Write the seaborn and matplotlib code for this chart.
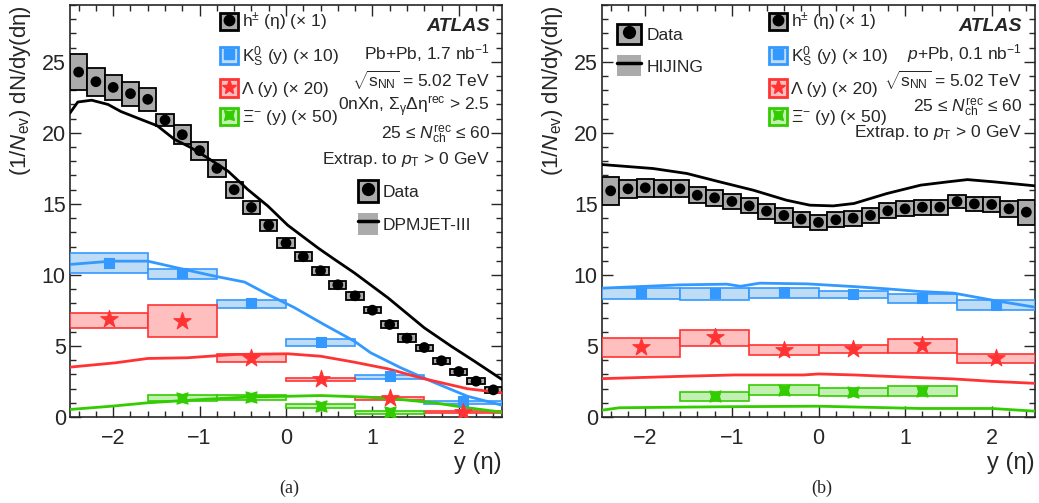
import numpy as np
import seaborn as sns
import matplotlib.pyplot as plt
from matplotlib.patches import Patch
from matplotlib.lines import Line2D
from matplotlib.legend_handler import HandlerTuple
from matplotlib.ticker import MultipleLocator

# ---- data ----
h_y = [-2.4, -2.2, -2.0, -1.8, -1.6, -1.4, -1.2, -1.0, -0.8, -0.6, -0.4, -0.2, 0.0,
       0.2, 0.4, 0.6, 0.8, 1.0, 1.2, 1.4, 1.6, 1.8, 2.0, 2.2, 2.4]
sp_edges = [-2.5, -1.6, -0.8, 0.0, 0.8, 1.6, 2.5]

# (a) Pb+Pb
h_a = [24.28, 23.6, 23.2, 22.76, 22.36, 20.9, 19.87, 18.75, 17.5, 16.0, 14.75, 13.5, 12.24,
       11.28, 10.3, 9.31, 8.53, 7.52, 6.51, 5.55, 4.89, 3.96, 3.2, 2.52, 1.91]
h_a_err = [1.26, 1.0, 0.9, 0.85, 0.82, 0.45, 0.67, 0.63, 0.61, 0.56, 0.47, 0.39, 0.35,
           0.32, 0.29, 0.27, 0.26, 0.23, 0.25, 0.26, 0.21, 0.21, 0.21, 0.2, 0.21]
k0_a = [10.83, 10.13, 7.99, 5.29, 2.87, 1.11]
k0_a_lo = [10.15, 9.73, 7.69, 5.03, 2.64, 0.9]
k0_a_hi = [11.56, 10.39, 8.23, 5.5, 2.97, 1.16]
lam_a = [6.87, 6.73, 4.17, 2.64, 1.35, 0.34]
lam_a_lo = [6.28, 5.62, 3.89, 2.5, 1.18, 0.3]
lam_a_hi = [7.34, 7.85, 4.4, 2.76, 1.42, 0.44]
xi_a = [1.35, 1.4, 0.76, 0.32]
xi_a_lo = [1.14, 1.21, 0.65, 0.23]
xi_a_hi = [1.54, 1.58, 0.93, 0.41]

dpm_x = [-2.5, -2.41, -2.25, -2.06, -1.91, -1.68, -1.49, -1.29, -1.1, -0.91, -0.67, -0.44,
         -0.21, 0.02, 0.37, 0.56, 0.79, 1.18, 1.6, 1.91, 2.18, 2.5]
dpm_h = [21.4, 22.17, 22.3, 22.0, 21.5, 20.95, 20.5, 19.54, 18.96, 18.25, 17.3, 16.0,
         14.85, 13.5, 11.9, 11.1, 10.15, 8.39, 6.28, 4.99, 3.93, 2.64]
dpm_k0_x = [-2.5, -2.02, -1.6, -1.21, -0.83, -0.48, -0.21, 0.1, 0.44, 0.79, 0.98, 1.33, 1.68, 2.1, 2.5]
dpm_k0 = [10.74, 10.97, 10.97, 10.43, 9.92, 9.5, 8.63, 7.69, 6.51, 5.34, 4.52, 3.46, 2.52, 1.46, 0.83]
dpm_lam_x = [-2.5, -1.98, -1.6, -1.14, -0.6, 0.02, 0.4, 0.79, 1.18, 1.6, 2.1, 2.5]
dpm_lam = [3.51, 3.81, 4.12, 4.17, 4.4, 4.45, 4.28, 3.86, 3.39, 2.69, 1.99, 1.7]
dpm_xi_x = [-2.5, -2.02, -1.6, -0.98, -0.4, 0.02, 0.4, 0.94, 1.33, 1.71, 2.1, 2.5]
dpm_xi = [0.53, 0.76, 1.0, 1.23, 1.42, 1.46, 1.51, 1.4, 1.23, 1.0, 0.65, 0.34]

# (b) p+Pb
h_b = [15.92, 16.06, 16.13, 16.06, 16.06, 15.61, 15.43, 15.17, 14.86, 14.49, 14.19, 13.93, 13.7,
       13.88, 14.0, 14.19, 14.51, 14.65, 14.77, 14.77, 15.17, 15.0, 14.96, 14.65, 14.42]
h_b_err = [0.98, 0.61, 0.63, 0.6, 0.6, 0.56, 0.55, 0.55, 0.53, 0.53, 0.53, 0.53, 0.53,
           0.53, 0.53, 0.53, 0.52, 0.52, 0.52, 0.52, 0.49, 0.52, 0.55, 0.58, 0.88]
k0_b = [8.72, 8.72, 8.83, 8.65, 8.41, 7.89]
k0_b_lo = [8.3, 8.25, 8.41, 8.41, 8.01, 7.5]
k0_b_hi = [9.07, 9.07, 9.11, 8.9, 8.65, 8.25]
lam_b = [4.93, 5.6, 4.74, 4.79, 5.09, 4.15]
lam_b_lo = [4.25, 4.97, 4.36, 4.5, 4.53, 3.82]
lam_b_hi = [5.56, 6.14, 5.09, 5.04, 5.49, 4.43]
xi_b = [1.46, 1.88, 1.77, 1.81]
xi_b_lo = [1.14, 1.58, 1.46, 1.49]
xi_b_hi = [1.77, 2.26, 2.02, 2.19]

hij_x = [-2.5, -1.91, -1.52, -1.14, -0.75, -0.37, -0.1, 0.17, 0.41, 0.79, 1.18, 1.49, 1.72, 2.03, 2.5]
hij_h = [17.77, 17.49, 17.14, 16.55, 15.96, 15.26, 14.91, 14.86, 15.03, 15.73, 16.32, 16.55, 16.71, 16.55, 16.27]
hij_k0_x = [-2.5, -1.6, -1.06, -0.9, -0.68, -0.13, 0.41, 0.79, 1.18, 1.56, 2.03, 2.5]
hij_k0 = [9.07, 9.3, 9.35, 9.2, 9.42, 9.37, 9.18, 9.02, 8.83, 8.72, 8.2, 7.73]
hij_lam_x = [-2.5, -1.6, -0.97, -0.17, 0.0, 0.41, 0.8, 1.56, 2.0, 2.5]
hij_lam = [2.7, 2.86, 2.96, 2.96, 3.03, 2.96, 2.86, 2.68, 2.51, 2.37]
hij_xi_x = [-2.5, -2.3, -1.14, 0.0, 1.18, 2.0, 2.5]
hij_xi = [0.48, 0.65, 0.72, 0.76, 0.6, 0.6, 0.41]

# ---- style ----
sns.set_style("ticks")
plt.rcParams['font.family'] = ['Liberation Sans', 'DejaVu Sans']
plt.rcParams['mathtext.fontset'] = 'custom'
plt.rcParams['mathtext.rm'] = 'Liberation Sans'
plt.rcParams['mathtext.it'] = 'Liberation Sans:italic'
plt.rcParams['mathtext.bf'] = 'Liberation Sans:bold'

GRAY_FILL = '#ababab'
BLUE, BLUE_FILL = '#3399ff', '#bfdcf7'
RED, RED_FILL = '#ff3333', '#ffbfbf'
GREEN, GREEN_FILL = '#33cc00', '#c2efb2'
XI_MARK = (4, 1, 45)

fig = plt.figure(figsize=(10.39, 5.03), dpi=100)
ax_a = fig.add_axes([70 / 1039, 86 / 503, 432 / 1039, 412 / 503])
ax_b = fig.add_axes([602 / 1039, 86 / 503, 433 / 1039, 412 / 503])

edges = np.array(sp_edges)
sp_c = (edges[:-1] + edges[1:]) / 2
sp_w = np.diff(edges)


def boxes(ax, x, w, lo, hi, fc, ec, lw=1.0):
    lo, hi = np.array(lo), np.array(hi)
    ax.bar(x, hi - lo, bottom=lo, width=w, color=fc, edgecolor=ec, linewidth=lw, zorder=3)


def species(ax, vals, lo, hi, k, fc, ec, mk, ms):
    n = len(vals)
    xs = sp_c[k:k + n]
    boxes(ax, xs, sp_w[k:k + n], lo, hi, fc, ec, 1.2)
    sns.scatterplot(x=xs, y=vals, ax=ax, marker=mk, s=ms, color=ec,
                    edgecolor=ec, linewidth=0.8, zorder=5)


def panel(ax, h, h_err, k0, k0lo, k0hi, lam, lamlo, lamhi, xi, xilo, xihi, models):
    h = np.array(h)
    err = np.array(h_err)
    boxes(ax, h_y, 0.2, h - err, h + err, GRAY_FILL, 'black', 1.3)
    sns.scatterplot(x=h_y, y=h, ax=ax, marker='o', s=60, color='black', edgecolor='none', zorder=5)
    species(ax, k0, k0lo, k0hi, 0, BLUE_FILL, BLUE, 's', 55)
    species(ax, lam, lamlo, lamhi, 0, RED_FILL, RED, '*', 170)
    species(ax, xi, xilo, xihi, 1, GREEN_FILL, GREEN, XI_MARK, 130)
    for (mx, my), c in zip(models, ['black', BLUE, RED, GREEN]):
        sns.lineplot(x=mx, y=my, ax=ax, color=c, lw=2, zorder=4, sort=False)

    ax.set_xlim(-2.5, 2.5)
    ax.set_ylim(0, 29)
    ax.xaxis.set_major_locator(MultipleLocator(1))
    ax.xaxis.set_minor_locator(MultipleLocator(0.2))
    ax.yaxis.set_major_locator(MultipleLocator(5))
    ax.yaxis.set_minor_locator(MultipleLocator(1))
    ax.tick_params(which='both', direction='in', top=True, right=True, width=1.0, labelsize=15.5)
    ax.tick_params(which='major', length=8)
    ax.tick_params(which='minor', length=4)
    ax.tick_params(axis='x', pad=8)
    ax.tick_params(axis='y', pad=3)
    for s in ax.spines.values():
        s.set_linewidth(1.2)
    ax.set_xlabel('y (η)', loc='right', fontsize=17, labelpad=2)
    ax.set_ylabel(r'(1/$N_{\mathrm{ev}}$) dN/dy(dη)', loc='top', fontsize=16, labelpad=6)


def icon(fc, ec, mk, col, ms):
    return (Patch(fc=fc, ec=ec, lw=2), Line2D([], [], ls='none', marker=mk, color=col, ms=ms))


sp_handles = [icon(GRAY_FILL, 'black', 'o', 'black', 7.5),
              icon(BLUE_FILL, BLUE, 's', BLUE, 7.5),
              icon(RED_FILL, RED, '*', RED, 11),
              icon(GREEN_FILL, GREEN, XI_MARK, GREEN, 10)]
sp_labels = [r'h$^{\pm}$ (η) (× 1)', r'K$^{0}_{\mathrm{S}}$ (y) (× 10)',
             'Λ (y) (× 20)', r'Ξ$^{-}$ (y) (× 50)']

models_a = [(dpm_x, dpm_h), (dpm_k0_x, dpm_k0), (dpm_lam_x, dpm_lam), (dpm_xi_x, dpm_xi)]
models_b = [(hij_x, hij_h), (hij_k0_x, hij_k0), (hij_lam_x, hij_lam), (hij_xi_x, hij_xi)]

panel(ax_a, h_a, h_a_err, k0_a, k0_a_lo, k0_a_hi, lam_a, lam_a_lo, lam_a_hi,
      xi_a, xi_a_lo, xi_a_hi, models_a)
panel(ax_b, h_b, h_b_err, k0_b, k0_b_lo, k0_b_hi, lam_b, lam_b_lo, lam_b_hi,
      xi_b, xi_b_lo, xi_b_hi, models_b)

leg_kw = dict(frameon=False, fontsize=12.5, borderpad=0, borderaxespad=0,
              handler_map={tuple: HandlerTuple(ndivide=1, pad=0)})

data_h = (Patch(fc=GRAY_FILL, ec='black', lw=2), Line2D([], [], ls='none', marker='o', color='black', ms=8.5))
mod_h = (Patch(fc=GRAY_FILL, ec='none'), Line2D([], [], color='black', lw=2.5))

l1 = ax_a.legend(sp_handles, sp_labels, loc='upper left', bbox_to_anchor=(0.347, 0.985),
                 handlelength=1.05, handleheight=1.15, labelspacing=0.62, handletextpad=0.2, **leg_kw)
ax_a.add_artist(l1)
ax_a.legend([data_h, mod_h], ['Data', 'DPMJET-III'], loc='upper left', bbox_to_anchor=(0.667, 0.575),
            handlelength=1.15, handleheight=1.6, labelspacing=0.6, handletextpad=0.25, **leg_kw)

l2 = ax_b.legend(sp_handles, sp_labels, loc='upper left', bbox_to_anchor=(0.386, 0.985),
                 handlelength=1.05, handleheight=1.15, labelspacing=0.62, handletextpad=0.2, **leg_kw)
ax_b.add_artist(l2)
ax_b.legend([data_h, mod_h], ['Data', 'HIJING'], loc='upper left', bbox_to_anchor=(0.035, 0.955),
            handlelength=1.4, handleheight=1.45, labelspacing=0.65, handletextpad=0.3, **leg_kw)

# annotation text
txt_a = ['Pb+Pb, 1.7 nb$^{\\mathrm{-1}}$', r'$\sqrt{\mathrm{s}_{\mathrm{NN}}}$ = 5.02 TeV',
         r'0nXn, Σ$_{\mathrm{γ}}$Δη$^{\mathrm{rec}}$ > 2.5',
         r'25 ≤ $N_{\mathrm{ch}}^{\mathrm{rec}}$ ≤ 60', r'Extrap. to $p_{\mathrm{T}}$ > 0 GeV']
ypos_a = [0.883, 0.818, 0.752, 0.687, 0.626]
txt_b = ['$p$+Pb, 0.1 nb$^{\\mathrm{-1}}$', r'$\sqrt{\mathrm{s}_{\mathrm{NN}}}$ = 5.02 TeV',
         r'25 ≤ $N_{\mathrm{ch}}^{\mathrm{rec}}$ ≤ 60', r'Extrap. to $p_{\mathrm{T}}$ > 0 GeV']
ypos_b = [0.883, 0.818, 0.752, 0.690]

for ax, txts, ys, xr in [(ax_a, txt_a, ypos_a, 0.972), (ax_b, txt_b, ypos_b, 0.970)]:
    ax.text(xr, 0.949, 'ATLAS', transform=ax.transAxes, ha='right', va='center',
            fontsize=14, fontweight='bold', fontstyle='italic')
    for t, yy in zip(txts, ys):
        ax.text(xr, yy, t, transform=ax.transAxes, ha='right', va='center', fontsize=12.5)

fig.text(289 / 1039, 1 - 488 / 503, '(a)', ha='center', va='center', fontsize=13, family='Liberation Serif')
fig.text(822 / 1039, 1 - 488 / 503, '(b)', ha='center', va='center', fontsize=13, family='Liberation Serif')

fig.savefig('out.png', dpi=100)
